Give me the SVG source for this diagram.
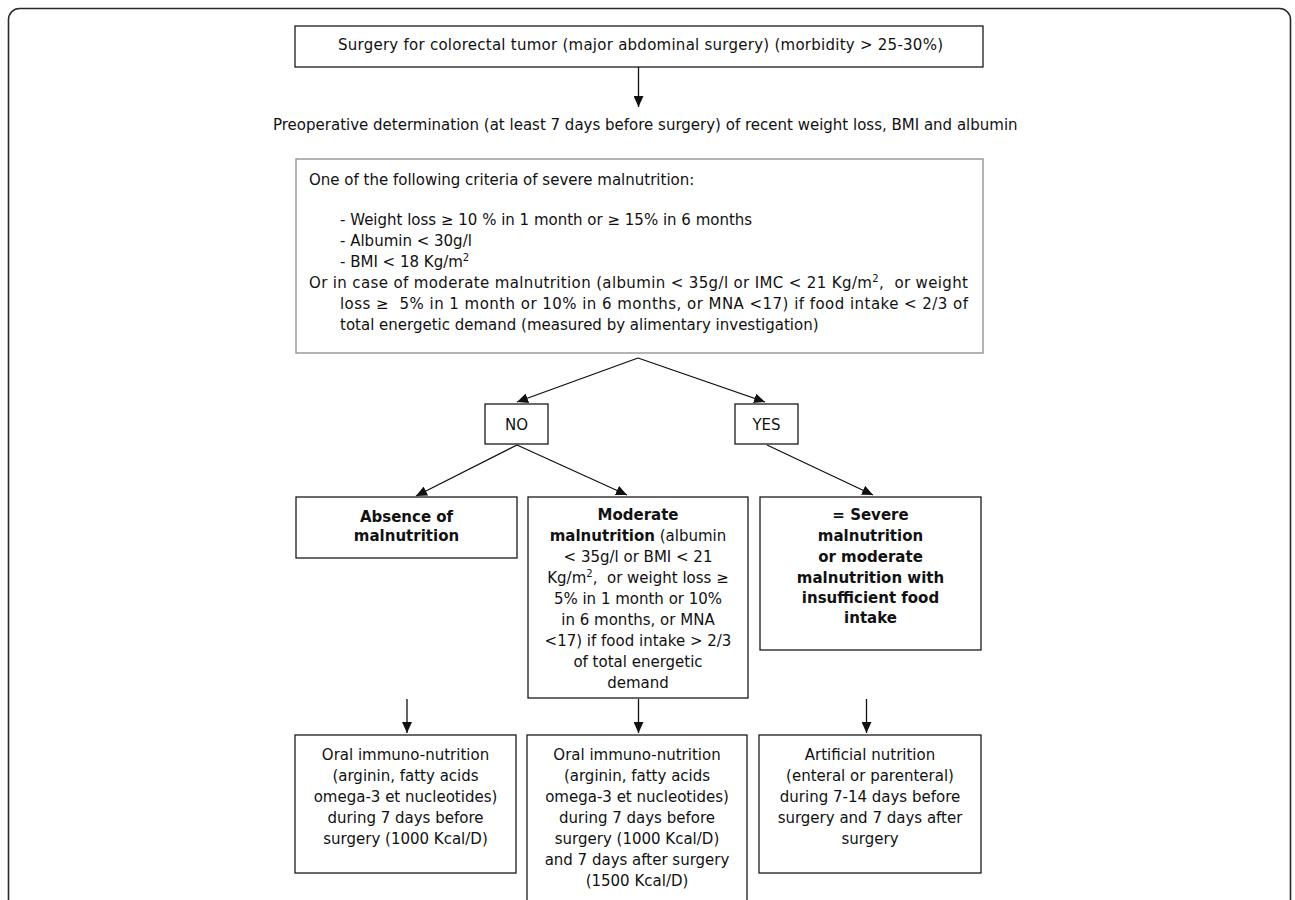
<svg xmlns="http://www.w3.org/2000/svg" width="1295" height="900" viewBox="0 0 1295 900">
<defs>
<style>
text{font-family:"DejaVu Sans",Verdana,sans-serif;font-size:15px;fill:#111}
.c{text-anchor:middle}
.b{font-weight:bold}
.box{fill:#fff;stroke:#1a1a1a;stroke-width:1.3}
.gbox{fill:#fff;stroke:#9a9a9a;stroke-width:1.5}
.con{stroke:#111;stroke-width:1.3;fill:none;marker-end:url(#ah)}
.sup{font-size:10px}
</style>
<marker id="ah" markerUnits="userSpaceOnUse" markerWidth="12" markerHeight="10" refX="11" refY="5" orient="auto">
<path d="M0,0 L11,5 L0,10 z" fill="#111"/>
</marker>
</defs>
<rect x="0" y="0" width="1295" height="900" fill="#fff"/>
<rect x="8.5" y="8.5" width="1282" height="930" rx="11" fill="none" stroke="#2a2a2a" stroke-width="1.6"/>

<g id="n-surgery">
<rect class="box" x="295" y="26" width="688" height="41"/>
<text x="338" y="50" textLength="605" lengthAdjust="spacing">Surgery for colorectal tumor (major abdominal surgery) (morbidity &gt; 25-30%)</text>
</g>

<g id="n-preop">
<text x="273" y="130">Preoperative determination (at least 7 days before surgery) of recent weight loss, BMI and albumin</text>
</g>

<g id="n-criteria">
<rect class="gbox" x="296" y="159" width="687" height="194"/>
<text x="309" y="185">One of the following criteria of severe malnutrition:</text>
<text x="340" y="225">- Weight loss ≥ 10 % in 1 month or ≥ 15% in 6 months</text>
<text x="340" y="246">- Albumin &lt; 30g/l</text>
<text x="340" y="267">- BMI &lt; 18 Kg/m<tspan class="sup" dy="-6">2</tspan></text>
<text x="309" y="288" textLength="659" lengthAdjust="spacing">Or in case of moderate malnutrition (albumin &lt; 35g/l or IMC &lt; 21 Kg/m<tspan class="sup" dy="-6">2</tspan><tspan dy="6">, &#160;or weight</tspan></text>
<text x="340" y="309" textLength="628" lengthAdjust="spacing">loss ≥ &#160;5% in 1 month or 10% in 6 months, or MNA &lt;17) if food intake &lt; 2/3 of</text>
<text x="340" y="330">total energetic demand (measured by alimentary investigation)</text>
</g>

<g id="n-no">
<rect class="box" x="485" y="404" width="63" height="40"/>
<text class="c" x="516.5" y="429.5">NO</text>
</g>

<g id="n-yes">
<rect class="box" x="735" y="404" width="63" height="40"/>
<text class="c" x="766.5" y="429.5">YES</text>
</g>

<g id="n-absence">
<rect class="box" x="296" y="497" width="221" height="61"/>
<text class="c b" x="406.5" y="522">Absence of</text>
<text class="c b" x="406.5" y="541">malnutrition</text>
</g>

<g id="n-moderate">
<rect class="box" x="528" y="497" width="220" height="201"/>
<text class="c" x="638" y="520"><tspan class="b">Moderate</tspan></text>
<text class="c" x="638" y="541"><tspan class="b">malnutrition</tspan> (albumin</text>
<text class="c" x="638" y="562">&lt; 35g/l or BMI &lt; 21</text>
<text class="c" x="638" y="583">Kg/m<tspan class="sup" dy="-6">2</tspan><tspan dy="6">, &#160;or weight loss ≥</tspan></text>
<text class="c" x="638" y="604">5% in 1 month or 10%</text>
<text class="c" x="638" y="625">in 6 months, or MNA</text>
<text class="c" x="638" y="646">&lt;17) if food intake &gt; 2/3</text>
<text class="c" x="638" y="667">of total energetic</text>
<text class="c" x="638" y="688">demand</text>
</g>

<g id="n-severe">
<rect class="box" x="760" y="497" width="221" height="153"/>
<text class="c b" x="870.5" y="520">= Severe</text>
<text class="c b" x="870.5" y="541">malnutrition</text>
<text class="c b" x="870.5" y="562">or moderate</text>
<text class="c b" x="870.5" y="583">malnutrition with</text>
<text class="c b" x="870.5" y="603">insufficient food</text>
<text class="c b" x="870.5" y="623">intake</text>
</g>

<g id="n-oral1">
<rect class="box" x="295" y="735" width="221" height="138"/>
<text class="c" x="405.5" y="760">Oral immuno-nutrition</text>
<text class="c" x="405.5" y="781">(arginin, fatty acids</text>
<text class="c" x="405.5" y="802">omega-3 et nucleotides)</text>
<text class="c" x="405.5" y="823">during 7 days before</text>
<text class="c" x="405.5" y="844">surgery (1000 Kcal/D)</text>
</g>

<g id="n-oral2">
<rect class="box" x="527" y="735" width="220" height="200"/>
<text class="c" x="637" y="760">Oral immuno-nutrition</text>
<text class="c" x="637" y="781">(arginin, fatty acids</text>
<text class="c" x="637" y="802">omega-3 et nucleotides)</text>
<text class="c" x="637" y="823">during 7 days before</text>
<text class="c" x="637" y="844">surgery (1000 Kcal/D)</text>
<text class="c" x="637" y="865">and 7 days after surgery</text>
<text class="c" x="637" y="886">(1500 Kcal/D)</text>
</g>

<g id="n-artificial">
<rect class="box" x="759" y="735" width="222" height="138"/>
<text class="c" x="870" y="760">Artificial nutrition</text>
<text class="c" x="870" y="781">(enteral or parenteral)</text>
<text class="c" x="870" y="802">during 7-14 days before</text>
<text class="c" x="870" y="823">surgery and 7 days after</text>
<text class="c" x="870" y="844">surgery</text>
</g>

<g id="connectors">
<line class="con" x1="638.5" y1="67" x2="638.5" y2="107"/>
<line class="con" x1="638" y1="358" x2="517" y2="402"/>
<line class="con" x1="638" y1="358" x2="765" y2="402"/>
<line class="con" x1="517" y1="445" x2="416" y2="496"/>
<line class="con" x1="517" y1="445" x2="627" y2="495"/>
<line class="con" x1="767" y1="445" x2="873" y2="495"/>
<line class="con" x1="407" y1="699" x2="407" y2="733"/>
<line class="con" x1="638.5" y1="699" x2="638.5" y2="733"/>
<line class="con" x1="866.5" y1="699" x2="866.5" y2="733"/>
</g>
</svg>
